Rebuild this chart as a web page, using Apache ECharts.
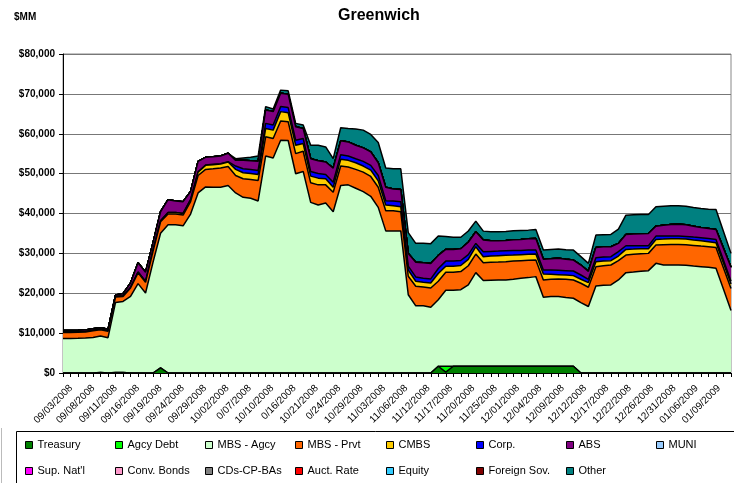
<!DOCTYPE html>
<html>
<head>
<meta charset="utf-8">
<script src="https://cdn.jsdelivr.net/npm/echarts@6/dist/echarts.min.js"></script>
<style>
html,body{margin:0;padding:0;background:#fff;}
#chart{width:734px;height:483px;}
</style>
</head>
<body>
<div id="chart"></div>
<script>
// ---- categories (business days) ----
const dates = ['09/03/2008','09/04/2008','09/05/2008','09/08/2008','09/09/2008','09/10/2008','09/11/2008','09/12/2008','09/15/2008','09/16/2008',
'09/17/2008','09/18/2008','09/19/2008','09/22/2008','09/23/2008','09/24/2008','09/25/2008','09/26/2008','09/29/2008','09/30/2008',
'10/01/2008','10/02/2008','10/03/2008','10/06/2008','10/07/2008','10/08/2008','10/09/2008','10/10/2008','10/14/2008','10/15/2008',
'10/16/2008','10/17/2008','10/20/2008','10/21/2008','10/22/2008','10/23/2008','10/24/2008','10/27/2008','10/28/2008','10/29/2008',
'10/30/2008','10/31/2008','11/03/2008','11/04/2008','11/05/2008','11/06/2008','11/07/2008','11/10/2008','11/12/2008','11/13/2008',
'11/14/2008','11/17/2008','11/18/2008','11/19/2008','11/20/2008','11/21/2008','11/24/2008','11/25/2008','11/26/2008','11/28/2008',
'12/01/2008','12/02/2008','12/03/2008','12/04/2008','12/05/2008','12/08/2008','12/09/2008','12/10/2008','12/11/2008','12/12/2008',
'12/15/2008','12/16/2008','12/17/2008','12/18/2008','12/19/2008','12/22/2008','12/23/2008','12/24/2008','12/26/2008','12/29/2008',
'12/30/2008','12/31/2008','01/02/2009','01/05/2009','01/06/2009','01/07/2009','01/08/2009','01/09/2009','01/12/2009','01/13/2009'];

// tick labels shown (every 3rd category), as printed on the reference
const tickLabels = ['09/03/2008','09/08/2008','09/11/2008','09/16/2008','09/19/2008','09/24/2008','09/29/2008','10/02/2008','0/07/2008','10/10/2008',
'0/16/2008','10/21/2008','0/24/2008','10/29/2008','11/03/2008','11/06/2008','11/12/2008','11/17/2008','11/20/2008','11/25/2008',
'12/01/2008','12/04/2008','12/09/2008','12/12/2008','12/17/2008','12/22/2008','12/26/2008','12/31/2008','01/06/2009','01/09/2009'];

// ---- series values ($MM) ----
const treasury = [0,0,0,0,0,150,0,150,150,0, 0,0,0,1300,0,0,0,0,0,0,
0,0,0,0,0,0,0,0,0,0, 0,0,0,0,0,0,0,0,0,0,
0,0,0,0,0,0,0,0,0,0, 1700,200,1700,1700,1700,1700,1700,1700,1700,1700,
1700,1700,1700,1700,1700,1700,1700,1700,1700,0, 0,0,0,0,0,0,0,0,0,0,
0,0,0,0,0,0,0,0,0,0];
const agcyDebt = [0,0,0,0,0,0,0,0,0,0, 0,0,0,0,0,0,0,0,0,0,
0,0,0,0,0,0,0,0,0,0, 0,0,0,0,0,0,0,0,0,0,
0,0,0,0,0,0,0,0,0,0, 0,1500,0,0,0,0,0,0,0,0,
0,0,0,0,0,0,0,0,0,0, 0,0,0,0,0,0,0,0,0,0,
0,0,0,0,0,0,0,0,0,0];
const mbsAgcy = [8680,8680,8700,8760,8930,9120,8850,17540,17800,19210, 22410,20050,27800,33750,37150,37150,36900,39850,45160,46670,
46590,46590,47010,45160,44060,43810,43140,54420,53920,58380, 58300,49960,50550,42800,42130,42630,40440,47010,47180,46340,
45500,44320,41540,35640,35640,35640,19630,16850,16850,16510, 16670,19030,19030,19190,20400,23470,21470,21550,21630,21630,
21800,22050,22220,22470,17300,17470,17470,17220,17050,17670, 16670,21830,22000,22080,23330,25170,25330,25500,25670,27500,
27080,27080,27080,27000,26830,26670,26500,26250,21000,15700];
const mbsPrvt = [1500,1500,1500,1520,1650,1600,1600,1350,1260,2110, 2700,2700,2780,2860,2700,2700,2700,3120,4380,4390,
4630,4800,4800,4380,4640,4720,5140,4810,4890,4810, 4720,5060,5060,4890,5050,4550,4890,4890,4470,4720,
4880,4970,5050,5050,5050,4800,4630,4890,4720,4810, 4630,4550,4550,4550,4800,4660,4500,4500,4500,4590,
4580,4420,4330,4160,4330,4330,4410,4580,4580,4830, 4830,4840,4920,5000,4840,4410,4420,4420,4330,4580,
5090,5170,5170,5170,5170,5160,5170,5250,5350,5500];
const cmbs = [150,150,150,150,150,150,150,150,150,150, 200,200,200,250,420,420,420,500,840,1010,
1020,1010,1100,1520,1510,1510,1510,2100,2100,2360, 2270,2100,1930,1680,1690,1520,1260,1680,1680,1680,
1520,1600,1600,1440,1270,1260,1520,1260,1180,1260, 1940,1510,1510,1520,1600,1840,1500,1580,1590,1580,
1500,1500,1500,1500,1500,1250,1090,1080,1090,1000, 1170,1250,1160,1090,1160,1420,1330,1250,1170,1420,
1410,1420,1420,1410,1330,1340,1250,1170,1150,1100];
const corp = [0,0,0,0,0,0,0,0,0,0, 0,0,0,0,0,0,0,0,100,100,
100,100,100,840,1010,1020,1010,1270,1270,1260, 1270,1270,1270,1180,1170,1090,1260,1180,1100,1010,
1180,1180,1350,1090,1180,1270,1010,1100,1010,1010, 1260,1270,1270,1260,1200,830,1250,1170,1160,1170,
1170,1080,1080,1000,1000,1080,1080,1090,1160,1080, 830,1000,1000,1000,1090,920,840,750,750,830,
750,660,660,670,750,750,830,830,750,700];
const abs = [350,350,350,350,350,350,350,350,520,1100, 2320,2330,1910,2280,3200,2870,2950,2030,2600,1920,
1920,1920,2090,1430,2110,2190,2280,3370,3370,3370, 3370,3370,2520,3200,3210,3120,3540,3460,3530,3370,
3370,3370,3200,3370,3030,3030,3200,3700,3870,3880, 3290,2940,2940,2950,3100,2920,2910,2670,2590,2580,
2670,2750,2840,2920,2670,2840,3000,2830,2750,2500, 2000,2580,2590,2500,2080,2830,2910,3000,3080,2500,
2750,2920,3000,2920,2750,2580,2500,2500,3000,3500];
const muni = new Array(90).fill(0);
const supNatl = new Array(90).fill(0);
const convBonds = new Array(90).fill(0);
const cdsCpBas = new Array(90).fill(0);
const auctRate = new Array(90).fill(0);
const equity = new Array(90).fill(0);
const foreignSov = new Array(90).fill(0);
const other = [0,0,0,0,0,0,0,0,0,0, 0,0,0,0,0,0,0,0,0,0,
0,0,0,420,590,840,1340,840,670,760, 840,840,850,3370,3870,3790,2360,3280,3370,4050,
4460,4380,5060,4800,5050,5220,5230,4720,4890,4970, 4880,3210,3040,2870,2800,2660,2250,2250,2250,2250,
2250,2250,2160,2250,2330,2330,2330,2420,2500,2090, 2000,3080,3000,3080,3580,4830,4840,4830,4750,4840,
4750,4670,4590,4660,4670,4750,4830,5000,4250,3500];

const seriesNames = ['Treasury','Agcy Debt','MBS - Agcy','MBS - Prvt','CMBS','Corp.','ABS','MUNI',
  "Sup. Nat'l",'Conv. Bonds','CDs-CP-BAs','Auct. Rate','Equity','Foreign Sov.','Other'];
const seriesData = [treasury,agcyDebt,mbsAgcy,mbsPrvt,cmbs,corp,abs,muni,supNatl,convBonds,cdsCpBas,auctRate,equity,foreignSov,other];
const seriesColors = ['#008000','#00FF00','#CCFFCC','#FF6600','#FFCC00','#0000FF','#800080','#99CCFF',
  '#FF00FF','#FF99CC','#808080','#FF0000','#33CCFF','#800000','#008080'];

const FONT = 'Liberation Sans, Arial, Helvetica, sans-serif';
const chart = echarts.init(document.getElementById('chart'), null, {renderer:'canvas'});

const series = seriesNames.map((n,i)=>({
  name:n, type:'line', stack:'total', data:seriesData[i],
  xAxisIndex:0, yAxisIndex:0,
  symbol:'none', showSymbol:false, smooth:false,
  z: 40 - i,
  itemStyle:{color:seriesColors[i]},
  lineStyle:{color:'#000', width:1.5},
  areaStyle:{color:seriesColors[i], opacity:1},
  emphasis:{disabled:true},
  silent:true
}));

const colX = [25,115,205,295,386,476,566,656];
const legends = seriesNames.map((n,i)=>({
  data:[n], left: colX[i%8], top: (i<8 ? 439.5 : 465.5),
  orient:'horizontal', padding:0, itemWidth:7, itemHeight:7, icon:'rect',
  itemStyle:{borderColor:'#000', borderWidth:1},
  textStyle:{fontFamily:FONT, fontSize:11, color:'#000'},
  selectedMode:false
}));

chart.setOption({
  animation:false,
  backgroundColor:'#fff',
  title:{text:'Greenwich', left:333, top:3, textStyle:{fontFamily:FONT, fontSize:16, fontWeight:'bold', color:'#000'}},
  graphic:[
    {type:'text', left:14, top:12, style:{text:'$MM', font:'bold 10px '+FONT, fill:'#000'}},
    {type:'rect', shape:{x:16.5, y:431.5, width:730, height:60}, style:{fill:'none', stroke:'#000', lineWidth:1}},
    {type:'line', shape:{x1:1.5, y1:428, x2:1.5, y2:483}, style:{stroke:'#bbb', lineWidth:1}}
  ],
  legend: legends,
  grid:[
    {left:63, right:3, top:54, bottom:110, show:true, borderColor:'#888', borderWidth:1, backgroundColor:'transparent'},
    {left:71, width:668, top:54, bottom:110, show:false}
  ],
  xAxis:[{
    type:'category', data:dates, boundaryGap:false, gridIndex:0,
    axisLine:{lineStyle:{color:'#000', width:1}},
    axisTick:{show:true, interval:0, length:4, lineStyle:{color:'#000'}},
    axisLabel:{show:false},
    splitLine:{show:false}
  },{
    type:'category', data:dates, boundaryGap:false, gridIndex:1,
    axisLine:{show:false}, axisTick:{show:false}, splitLine:{show:false},
    axisLabel:{interval:2, rotate:45, fontFamily:FONT, fontSize:10, color:'#000', margin:13.5,
      formatter:(v,idx)=> tickLabels[Math.round(idx/3)] || ''}
  }],
  yAxis:[{
    type:'value', min:0, max:80000, interval:10000, gridIndex:0,
    axisLine:{show:true, lineStyle:{color:'#000', width:1}},
    axisTick:{show:true, length:4, lineStyle:{color:'#000'}},
    axisLabel:{fontFamily:FONT, fontSize:10, fontWeight:'bold', color:'#000', margin:8,
      formatter:v=>'$'+v.toLocaleString('en-US')},
    splitLine:{show:true, lineStyle:{color:'#777', width:1}}
  },{
    type:'value', min:0, max:80000, gridIndex:1, show:false
  }],
  series: series
});
</script>
</body>
</html>
